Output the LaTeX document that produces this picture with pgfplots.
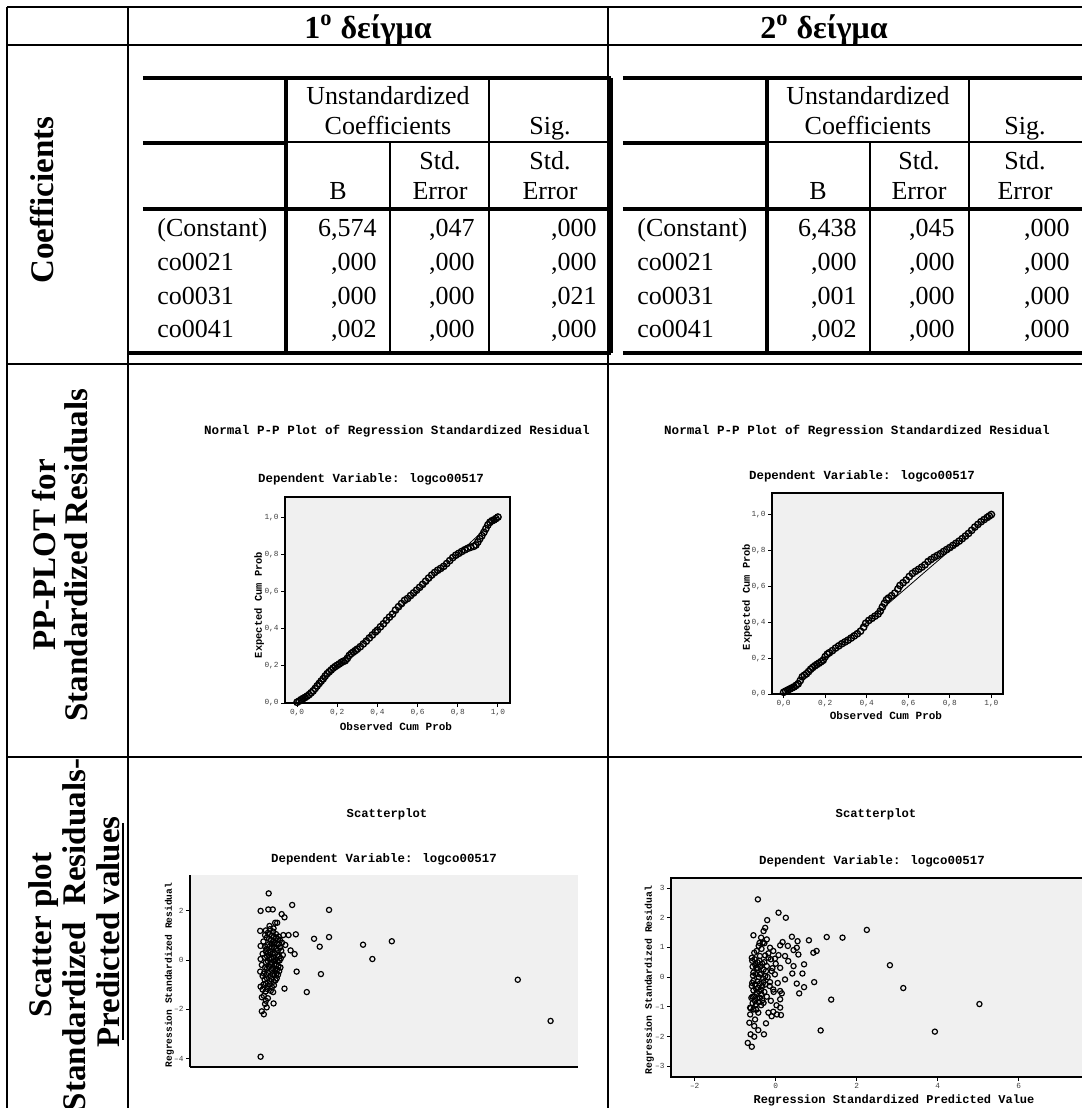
\documentclass[border=0pt]{standalone}
\usepackage{fontspec}
\usepackage{pgfplots}
\pgfplotsset{compat=1.18}
\setmainfont{Liberation Serif}
\newfontfamily\mono{Liberation Mono}
\newcommand\tfont{\fontsize{13bp}{15bp}\selectfont}
\newcommand\rfont{\bfseries\fontsize{16.5bp}{19bp}\selectfont}
\pgfplotsset{spss/.style={scale only axis, anchor=north west,
  axis background/.style={fill=black!6},
  axis line style={line width=0.7bp},
  tick align=outside, tick style={black, line width=0.5bp}, major tick length=2bp,
  ticklabel style={font=\fontsize{3.9bp}{4bp}\mono, text=black!75, inner sep=1bp},
  /pgf/number format/assume math mode=true,
  xtick pos=left, ytick pos=left}}
\pgfplotsset{pts/.style={only marks, mark=o, mark size=1.3bp, mark options={line width=0.6bp, black}}}
\pgfplotsset{ppts/.style={only marks, mark=o, mark size=1.6bp, mark options={line width=0.7bp, black}}}
\begin{document}
\begin{tikzpicture}
\path[use as bounding box] (0,0) rectangle (541bp,-554bp);
\begin{scope}[x=0.5bp,y=-0.5bp]
% outer grid
\draw[line width=1bp] (7,7)--(1082,7) (7,45)--(1082,45) (7,364)--(1082,364) (7,757)--(1082,757);
\draw[line width=1bp] (7,7)--(7,1108) (128,7)--(128,1108) (608,7)--(608,1108);
% inner table 1
\draw[line width=1.7bp] (143,78)--(611,78) (143,143)--(286,143) (143,209)--(611,209) (128,353)--(611,353);
\draw[line width=1.7bp] (286,78)--(286,353) (611,78)--(611,353);
\draw[line width=0.6bp] (286,142)--(611,142) (390,142)--(390,353) (489,78)--(489,353);
% inner table 2
\draw[line width=1.7bp] (623,78)--(1082,78) (623,143)--(767,143) (623,209)--(1082,209) (623,353)--(1082,353);
\draw[line width=1.7bp] (767,78)--(767,353);
\draw[line width=0.6bp] (767,142)--(1082,142) (870,142)--(870,353) (969,78)--(969,353);
% header
\node[anchor=base, font=\bfseries\fontsize{16bp}{19bp}\selectfont] at (368,38) {1\textsuperscript{o} δείγμα};
\node[anchor=base, font=\bfseries\fontsize{16bp}{19bp}\selectfont] at (824,38) {2\textsuperscript{o} δείγμα};
% row labels
\node[rotate=90, anchor=base, font=\rfont] at (53,200) {Coefficients};
\node[rotate=90, anchor=base, font=\rfont] at (55,555) {PP-PLOT for};
\node[rotate=90, anchor=base, font=\rfont] at (88,555) {Standardized Residuals};
\node[rotate=90, anchor=base, font=\rfont] at (51,935) {Scatter plot};
\node[rotate=90, anchor=base, font=\rfont] at (86,935) {Standardized\ \ Residuals-};
\node[rotate=90, anchor=base, font=\rfont] at (120,932) {Predicted values};
\draw[line width=0.8bp] (123,823)--(123,1040);
% table 1 text
\begin{scope}[every node/.style={font=\tfont, inner sep=0pt}]
\node[anchor=base] at (388,105) {Unstandardized};
\node[anchor=base] at (388,135) {Coefficients};
\node[anchor=base] at (550,135) {Sig.};
\node[anchor=base] at (338,200) {B};
\node[anchor=base] at (440,170) {Std.};
\node[anchor=base] at (440,200) {Error};
\node[anchor=base] at (550,170) {Std.};
\node[anchor=base] at (550,200) {Error};
\node[anchor=base west] at (157,237) {(Constant)};
\node[anchor=base west] at (157,271) {co0021};
\node[anchor=base west] at (157,305) {co0031};
\node[anchor=base west] at (157,338) {co0041};
\node[anchor=base east] at (377,237) {6,574};
\node[anchor=base east] at (377,271) {,000};
\node[anchor=base east] at (377,305) {,000};
\node[anchor=base east] at (377,338) {,002};
\node[anchor=base east] at (475,237) {,047};
\node[anchor=base east] at (475,271) {,000};
\node[anchor=base east] at (475,305) {,000};
\node[anchor=base east] at (475,338) {,000};
\node[anchor=base east] at (597,237) {,000};
\node[anchor=base east] at (597,271) {,000};
\node[anchor=base east] at (597,305) {,021};
\node[anchor=base east] at (597,338) {,000};
% table 2 text
\node[anchor=base] at (868,105) {Unstandardized};
\node[anchor=base] at (868,135) {Coefficients};
\node[anchor=base] at (1025,135) {Sig.};
\node[anchor=base] at (818,200) {B};
\node[anchor=base] at (919,170) {Std.};
\node[anchor=base] at (919,200) {Error};
\node[anchor=base] at (1025,170) {Std.};
\node[anchor=base] at (1025,200) {Error};
\node[anchor=base west] at (637,237) {(Constant)};
\node[anchor=base west] at (637,271) {co0021};
\node[anchor=base west] at (637,305) {co0031};
\node[anchor=base west] at (637,338) {co0041};
\node[anchor=base east] at (857,237) {6,438};
\node[anchor=base east] at (857,271) {,000};
\node[anchor=base east] at (857,305) {,001};
\node[anchor=base east] at (857,338) {,002};
\node[anchor=base east] at (955,237) {,045};
\node[anchor=base east] at (955,271) {,000};
\node[anchor=base east] at (955,305) {,000};
\node[anchor=base east] at (955,338) {,000};
\node[anchor=base east] at (1070,237) {,000};
\node[anchor=base east] at (1070,271) {,000};
\node[anchor=base east] at (1070,305) {,000};
\node[anchor=base east] at (1070,338) {,000};
\end{scope}
% chart titles and labels
\begin{scope}[every node/.style={inner sep=0pt}]
\node[anchor=base, font=\bfseries\fontsize{6.3bp}{7bp}\mono] at (397,435) {Normal P-P Plot of Regression Standardized Residual};
\node[anchor=base, font=\bfseries\fontsize{6.2bp}{7bp}\mono] at (371,483) {Dependent Variable: logco00517};
\node[anchor=base, font=\bfseries\fontsize{5.5bp}{6bp}\mono] at (396,731) {Observed Cum Prob};
\node[anchor=base, rotate=90, font=\bfseries\fontsize{5.2bp}{6bp}\mono] at (262,605) {Expected Cum Prob};
\node[anchor=base, font=\bfseries\fontsize{6.3bp}{7bp}\mono] at (857,435) {Normal P-P Plot of Regression Standardized Residual};
\node[anchor=base, font=\bfseries\fontsize{6.2bp}{7bp}\mono] at (862,480) {Dependent Variable: logco00517};
\node[anchor=base, font=\bfseries\fontsize{5.5bp}{6bp}\mono] at (886,720) {Observed Cum Prob};
\node[anchor=base, rotate=90, font=\bfseries\fontsize{5.2bp}{6bp}\mono] at (750,597) {Expected Cum Prob};
\node[anchor=base, font=\bfseries\fontsize{6.1bp}{7bp}\mono] at (387,818) {Scatterplot};
\node[anchor=base, font=\bfseries\fontsize{6.2bp}{7bp}\mono] at (384,863) {Dependent Variable: logco00517};
\node[anchor=base, rotate=90, font=\bfseries\fontsize{4.8bp}{6bp}\mono] at (172,975) {Regression Standardized Residual};
\node[anchor=base, font=\bfseries\fontsize{6.1bp}{7bp}\mono] at (876,818) {Scatterplot};
\node[anchor=base, font=\bfseries\fontsize{6.2bp}{7bp}\mono] at (872,865) {Dependent Variable: logco00517};
\node[anchor=base, rotate=90, font=\bfseries\fontsize{4.9bp}{6bp}\mono] at (652,980) {Regression Standardized Residual};
\node[anchor=base, font=\bfseries\fontsize{6bp}{7bp}\mono] at (894,1104) {Regression Standardized Predicted Value};
\end{scope}
\end{scope}

% PP plot 1
\begin{axis}[spss, at={(142.5bp,-248.5bp)}, width=112.5bp, height=103bp,
  xmin=-0.06, xmax=1.06, ymin=0, ymax=1.108,
  xtick={0,0.2,0.4,0.6,0.8,1}, ytick={0,0.2,0.4,0.6,0.8,1},
  xticklabels={0{,}0,0{,}2,0{,}4,0{,}6,0{,}8,1{,}0},
  yticklabels={0{,}0,0{,}2,0{,}4,0{,}6,0{,}8,1{,}0}]
\addplot[black, line width=0.4bp] coordinates {(0,0) (1,1)};
\addplot[ppts] table {
x y
0.000 0.004
0.010 0.010
0.020 0.018
0.030 0.024
0.040 0.030
0.050 0.037
0.060 0.045
0.070 0.055
0.080 0.065
0.090 0.078
0.100 0.092
0.110 0.105
0.120 0.118
0.130 0.130
0.140 0.145
0.150 0.158
0.160 0.168
0.170 0.178
0.180 0.188
0.190 0.196
0.200 0.203
0.210 0.210
0.220 0.218
0.230 0.224
0.240 0.228
0.250 0.240
0.260 0.256
0.270 0.266
0.280 0.274
0.290 0.282
0.300 0.290
0.315 0.303
0.330 0.318
0.345 0.333
0.360 0.350
0.375 0.366
0.390 0.382
0.400 0.392
0.415 0.410
0.430 0.426
0.445 0.445
0.460 0.462
0.475 0.478
0.490 0.500
0.505 0.518
0.520 0.535
0.535 0.552
0.550 0.562
0.565 0.578
0.580 0.592
0.595 0.607
0.610 0.622
0.625 0.638
0.640 0.655
0.655 0.672
0.670 0.688
0.685 0.702
0.700 0.714
0.715 0.724
0.730 0.735
0.745 0.750
0.760 0.766
0.775 0.782
0.790 0.795
0.805 0.805
0.820 0.815
0.835 0.824
0.850 0.832
0.865 0.838
0.880 0.843
0.890 0.850
0.900 0.866
0.910 0.884
0.920 0.900
0.930 0.918
0.940 0.938
0.950 0.958
0.960 0.972
0.970 0.980
0.980 0.985
0.990 0.992
1.000 1.000
};
\end{axis}

% PP plot 2
\begin{axis}[spss, at={(386bp,-246.5bp)}, width=115.5bp, height=100.5bp,
  xmin=-0.056, xmax=1.056, ymin=0, ymax=1.12,
  xtick={0,0.2,0.4,0.6,0.8,1}, ytick={0,0.2,0.4,0.6,0.8,1},
  xticklabels={0{,}0,0{,}2,0{,}4,0{,}6,0{,}8,1{,}0},
  yticklabels={0{,}0,0{,}2,0{,}4,0{,}6,0{,}8,1{,}0}]
\addplot[black, line width=0.4bp] coordinates {(0,0) (1,1)};
\addplot[ppts] table {
x y
0.000 0.010
0.010 0.016
0.020 0.022
0.030 0.028
0.040 0.034
0.050 0.040
0.060 0.048
0.070 0.057
0.080 0.075
0.090 0.096
0.100 0.105
0.110 0.113
0.120 0.125
0.130 0.138
0.140 0.148
0.150 0.157
0.160 0.165
0.170 0.172
0.180 0.180
0.190 0.188
0.200 0.208
0.210 0.222
0.220 0.230
0.235 0.242
0.250 0.256
0.265 0.268
0.280 0.280
0.295 0.290
0.310 0.300
0.325 0.312
0.340 0.324
0.355 0.336
0.370 0.350
0.385 0.372
0.395 0.394
0.410 0.410
0.425 0.422
0.440 0.434
0.455 0.446
0.465 0.462
0.475 0.484
0.485 0.505
0.495 0.525
0.505 0.535
0.520 0.548
0.535 0.562
0.550 0.585
0.560 0.605
0.575 0.620
0.590 0.635
0.605 0.655
0.620 0.672
0.635 0.684
0.650 0.695
0.665 0.707
0.680 0.720
0.695 0.738
0.710 0.750
0.725 0.762
0.740 0.772
0.755 0.782
0.770 0.794
0.785 0.805
0.800 0.816
0.815 0.828
0.830 0.840
0.845 0.852
0.860 0.866
0.875 0.880
0.890 0.895
0.905 0.912
0.920 0.930
0.935 0.945
0.950 0.960
0.965 0.972
0.980 0.984
0.990 0.992
1.000 1.000
};
\end{axis}

% Scatter 1
\begin{axis}[spss, at={(95bp,-437.5bp)}, width=194bp, height=96bp,
  xmin=-2.173, xmax=7.407, ymin=-4.337, ymax=3.445,
  axis x line*=top, axis y line*=left, tick align=outside,
  xtick=\empty, ytick={-4,-2,0,2}, yticklabels={–4,–2,0,2}]
\addplot[pts] table {
x y
-0.23 2.70
-0.43 1.99
-0.24 2.05
-0.13 2.05
0.35 2.23
1.26 2.03
0.09 1.86
0.16 1.73
-0.44 1.18
-0.32 1.01
-0.21 1.38
-0.07 1.51
-0.02 1.51
-0.11 1.28
0.44 1.04
0.26 1.01
0.13 1.01
0.89 0.86
1.26 0.93
1.03 0.54
2.10 0.62
2.81 0.76
2.33 0.04
0.18 0.61
0.31 0.39
0.41 0.24
0.08 0.38
0.07 0.07
-0.43 0.57
-0.43 0.04
-0.44 -0.47
0.46 -0.47
1.06 -0.57
0.16 -1.16
0.71 -1.30
-0.03 -0.74
-0.43 -1.08
-0.40 -1.51
-0.11 -1.76
-0.32 -1.78
-0.28 -1.92
-0.40 -2.08
-0.35 -2.20
-0.43 -3.92
5.92 -0.80
6.73 -2.47
-0.30 1.20
-0.25 1.10
-0.20 1.05
-0.15 0.98
-0.10 0.95
-0.05 0.90
0.00 0.85
0.05 0.80
-0.28 0.90
-0.22 0.85
-0.17 0.80
-0.12 0.75
-0.08 0.70
-0.03 0.68
0.02 0.65
-0.32 0.55
-0.26 0.60
-0.20 0.55
-0.15 0.50
-0.10 0.52
-0.05 0.45
0.00 0.40
-0.30 0.35
-0.24 0.30
-0.18 0.32
-0.13 0.25
-0.08 0.28
-0.02 0.20
0.03 0.15
-0.33 0.10
-0.27 0.15
-0.21 0.08
-0.16 0.05
-0.11 0.10
-0.06 0.00
-0.01 -0.05
0.04 -0.02
-0.30 -0.10
-0.25 -0.05
-0.19 -0.15
-0.14 -0.12
-0.09 -0.20
-0.04 -0.18
0.01 -0.25
-0.32 -0.30
-0.27 -0.35
-0.22 -0.28
-0.17 -0.40
-0.12 -0.35
-0.07 -0.42
-0.02 -0.38
0.03 -0.45
-0.35 -0.55
-0.29 -0.60
-0.24 -0.52
-0.19 -0.65
-0.14 -0.58
-0.09 -0.62
-0.04 -0.55
-0.33 -0.80
-0.27 -0.75
-0.21 -0.85
-0.16 -0.78
-0.11 -0.88
-0.06 -0.82
-0.36 -1.00
-0.30 -0.95
-0.25 -1.05
-0.20 -0.98
-0.15 -1.10
-0.10 -1.02
-0.38 -1.20
-0.31 -1.28
-0.26 -1.18
-0.18 -1.25
-0.12 -1.30
-0.22 0.20
-0.10 -0.05
-0.28 0.45
-0.15 0.65
-0.05 1.05
0.02 0.95
-0.20 1.25
-0.12 1.15
-0.36 0.75
-0.38 0.25
-0.40 -0.20
-0.38 -0.65
0.05 0.50
0.06 -0.30
0.10 0.70
0.12 0.20
0.00 -0.60
-0.35 -1.45
-0.25 -1.55
-0.30 -1.65
};
\end{axis}

% Scatter 2
\begin{axis}[spss, at={(335.5bp,-439bp)}, width=214.35bp, height=99.5bp,
  xmin=-2.585, xmax=8, ymin=-3.37, ymax=3.34,
  xtick={-2,0,2,4,6}, ytick={-3,-2,-1,0,1,2,3},
  xticklabels={–2,0,2,4,6}, yticklabels={–3,–2,–1,0,1,2,3}]
\addplot[pts] table {
x y
-0.44 2.62
0.07 2.17
0.25 2.00
-0.21 1.92
-0.26 1.66
-0.30 1.55
-0.55 1.41
-0.36 1.33
-0.22 1.27
-0.32 1.16
-0.28 1.14
0.40 1.36
0.17 1.18
0.54 1.21
0.82 1.24
1.26 1.35
1.65 1.33
2.25 1.59
-0.14 0.99
-0.06 0.88
0.11 1.07
0.30 1.05
0.44 0.91
0.52 0.99
1.01 0.88
0.93 0.82
0.56 0.76
0.23 0.71
0.07 0.74
-0.53 0.82
-0.59 0.65
-0.47 0.88
-0.39 0.71
-0.26 0.73
-0.18 0.65
-0.02 0.62
0.31 0.54
0.70 0.43
0.44 0.37
2.82 0.40
0.11 0.31
-0.47 0.31
-0.22 0.37
-0.10 0.20
-0.02 0.09
0.41 0.12
0.66 0.12
-0.55 0.15
-0.39 0.09
-0.26 0.03
0.23 -0.08
-0.55 -0.13
-0.30 -0.17
-0.14 -0.17
0.95 -0.17
0.52 -0.22
0.70 -0.34
3.15 -0.37
-0.59 -0.30
-0.43 -0.36
-0.06 -0.42
0.11 -0.47
0.15 -0.55
0.58 -0.55
-0.47 -0.53
-0.35 -0.58
-0.22 -0.66
-0.57 -0.66
-0.51 -0.81
-0.30 -0.87
0.11 -0.75
1.37 -0.76
5.03 -0.91
-0.63 -1.03
-0.55 -1.09
0.11 -1.03
-0.06 -1.17
-0.18 -1.20
-0.10 -1.32
0.13 -1.28
0.03 -1.26
-0.43 -1.20
-0.63 -1.26
-0.51 -1.43
-0.24 -1.56
-0.65 -1.54
-0.53 -1.65
-0.43 -1.79
-0.29 -1.93
-0.62 -1.93
-0.53 -2.01
-0.69 -2.22
-0.59 -2.35
1.11 -1.80
3.93 -1.84
-0.58 0.55
-0.52 0.60
-0.45 0.50
-0.40 0.55
-0.33 0.45
-0.28 0.50
-0.57 0.35
-0.50 0.40
-0.44 0.30
-0.38 0.35
-0.30 0.25
-0.24 0.20
-0.56 0.05
-0.49 0.10
-0.42 0.00
-0.36 0.12
-0.31 -0.05
-0.20 0.00
-0.58 -0.20
-0.51 -0.25
-0.45 -0.15
-0.39 -0.22
-0.33 -0.30
-0.25 -0.25
-0.55 -0.45
-0.48 -0.40
-0.41 -0.48
-0.36 -0.42
-0.28 -0.50
-0.60 -0.70
-0.53 -0.65
-0.46 -0.72
-0.39 -0.70
-0.33 -0.78
-0.57 -0.88
-0.49 -0.92
-0.42 -0.85
-0.36 -0.95
-0.62 -1.05
-0.48 -1.10
-0.12 0.60
-0.08 0.30
-0.15 -0.30
-0.05 -0.50
0.00 0.45
0.05 -0.20
-0.18 0.80
-0.12 -0.80
0.02 -0.95
-0.35 0.95
-0.40 1.15
-0.42 1.05
};
\end{axis}
\end{tikzpicture}
\end{document}
